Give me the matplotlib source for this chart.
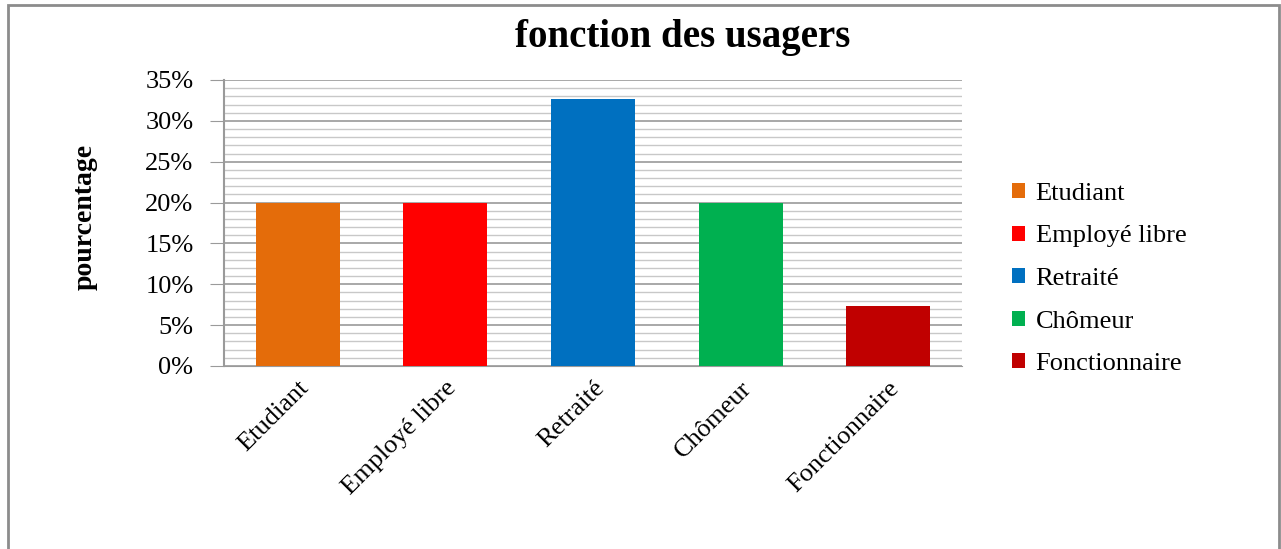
import matplotlib
matplotlib.use("Agg")
import matplotlib.pyplot as plt
from matplotlib.ticker import MultipleLocator, FuncFormatter
from matplotlib.patches import Rectangle

categories = ["Etudiant", "Employé libre", "Retraité", "Chômeur", "Fonctionnaire"]
values = [20.0, 20.0, 32.7, 20.0, 7.3]
colors = ["#E46C0A", "#FF0000", "#0070C0", "#00B050", "#C00000"]
yticks = [0, 5, 10, 15, 20, 25, 30, 35]

plt.rcParams['font.family'] = ['Liberation Serif', 'DejaVu Serif']

fig = plt.figure(figsize=(12.81, 5.49), dpi=100)
fig.patches.append(Rectangle((8/1281, -10/549), 1271/1281, (10 + 544)/549, transform=fig.transFigure,
                             fill=False, edgecolor="#8c8c8c", linewidth=2.0))
ax = fig.add_axes([224/1281, 1 - 366/549, (962-224)/1281, (366-80)/549])

x = range(len(categories))
bars = ax.bar(x, values, width=0.57, color=colors, zorder=3)

ax.set_xlim(-0.5, 4.5)
ax.set_ylim(0, 35)
ax.set_yticks(yticks)
ax.yaxis.set_minor_locator(MultipleLocator(1))
ax.yaxis.set_major_formatter(FuncFormatter(lambda v, p: f"{int(v)}%"))
ax.grid(axis='y', which='major', color="#9a9a9a", linewidth=1.2, zorder=0)
ax.grid(axis='y', which='minor', color="#c8c8c8", linewidth=1.0, zorder=0)
ax.tick_params(axis='y', which='major', length=10, color="#9a9a9a", labelsize=19, pad=12)
ax.tick_params(axis='y', which='minor', length=0)
ax.set_xticks(list(x))
ax.set_xticklabels(categories, rotation=45, ha='right', rotation_mode='anchor', fontsize=19)
ax.tick_params(axis='x', length=0, pad=8)
for s in ['top', 'right']:
    ax.spines[s].set_visible(False)
ax.spines['left'].set_color("#9a9a9a")
ax.spines['bottom'].set_color("#9a9a9a")
ax.spines['left'].set_linewidth(1.5)

ax.set_ylabel("pourcentage", fontsize=20, fontweight='bold')
ax.yaxis.set_label_coords((98 - 224) / 738, (366 - 217) / 286)
fig.text(683/1281, 1 - 38/549, "fonction des usagers", ha='center', va='center',
         fontsize=28, fontweight='bold')

fig.legend(handles=bars, labels=categories, loc='center left',
           bbox_to_anchor=(988/1281, 1 - 279/549), frameon=False, fontsize=19,
           handlelength=0.5, handleheight=0.5, handletextpad=0.4, labelspacing=0.78)

fig.savefig("out.png", dpi=100)
